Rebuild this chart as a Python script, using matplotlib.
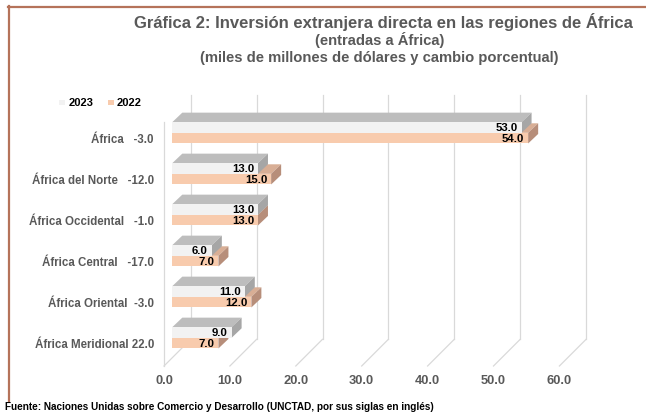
import matplotlib
matplotlib.use("Agg")
import matplotlib.pyplot as plt
from matplotlib.patches import Polygon

# ---------------------------------------------------------------
# data (miles de millones de dólares)
# ---------------------------------------------------------------
regions = ["África", "África del Norte", "África Occidental",
           "África Central", "África Oriental", "África Meridional"]
change_pct = [-3.0, -12.0, -1.0, -17.0, -3.0, 22.0]
fdi_2023 = [53.0, 13.0, 13.0, 6.0, 11.0, 9.0]
fdi_2022 = [54.0, 15.0, 13.0, 7.0, 12.0, 7.0]
x_ticks = [0, 10, 20, 30, 40, 50, 60]
label_gaps = [3, 3, 3, 3, 2, 1]   # spaces between name and % in the label

# ---------------------------------------------------------------
# look
# ---------------------------------------------------------------
W, H = 646, 415
GRAY_TXT = "#595959"
GRID = "#D9D9D9"
BORDER = "#B5735A"
C23 = {"front": "#F2F2F2", "top": "#BDBDBD", "side": "#A6A6A6"}
C22 = {"front": "#F8CBAD", "top": "#D8AE95", "side": "#B78E7A"}

plt.rcParams["font.family"] = ["Liberation Sans", "DejaVu Sans"]
plt.rcParams["font.weight"] = "bold"

# pixel geometry of the 3d box (value units / category units)
PX_X = 6.59      # pixels per value unit
PX_Y = 41.0      # pixels per category
X0 = 172.3       # pixel where value 0 of bar front sits
Y0 = 132.8       # pixel of first category (between the two bars)

BAR_H = 0.26
BAR_DX = 10 / PX_X
BAR_DY = 9.5 / PX_Y
WALL_DX = 26.7 / PX_X
WALL_DY = 26.7 / PX_Y
FRONT_SHIFT = 8.3 / PX_X


def vx(px):
    return (px - X0) / PX_X


def cy(py):
    return (py - Y0) / PX_Y


fig = plt.figure(figsize=(W / 100, H / 100), dpi=100)
ax = fig.add_axes([0, 0, 1, 1])
ax.set_xlim(vx(0), vx(W))
ax.set_ylim(cy(H), cy(0))
ax.axis("off")

# frame lines (top and left)
fig.add_artist(plt.Line2D([8.5 / W, 8.5 / W], [1 - 6 / H, 1 - 401 / H],
                          color=BORDER, lw=1.6))
fig.add_artist(plt.Line2D([8 / W, 1], [1 - 7 / H, 1 - 7 / H],
                          color=BORDER, lw=1.6))

# titles
fig.text(383 / W, 1 - 22 / H,
         "Gráfica 2: Inversión extranjera directa en las regiones de África",
         ha="center", va="center", fontsize=12, color=GRAY_TXT)
fig.text(380 / W, 1 - 40 / H, "(entradas a África)",
         ha="center", va="center", fontsize=10.6, color=GRAY_TXT)
fig.text(379 / W, 1 - 58 / H,
         "(miles de millones de dólares y cambio porcentual)",
         ha="center", va="center", fontsize=10.6, color=GRAY_TXT)

# walls / floor gridlines
floor_front = cy(366)
floor_back = floor_front - WALL_DY
wall_top = cy(95)
x_front0 = -FRONT_SHIFT
for t in x_ticks:
    xb = t + x_front0 + WALL_DX
    ax.plot([xb, xb], [floor_back, wall_top], color=GRID, lw=0.9, zorder=1)
    ax.plot([t + x_front0, xb], [floor_front, floor_back], color=GRID,
            lw=0.9, zorder=1)
    ax.text(t + x_front0, cy(381), f"{t:.1f}", ha="center", va="center",
            fontsize=9.3, color=GRAY_TXT)
ax.plot([x_front0, x_front0], [floor_front, wall_top + WALL_DY],
        color=GRID, lw=0.9, zorder=1)


def draw_bar(val, y_top, cols, z):
    y_bot = y_top + BAR_H
    front = [(0, y_top), (val, y_top), (val, y_bot), (0, y_bot)]
    top = [(0, y_top), (val, y_top), (val + BAR_DX, y_top - BAR_DY),
           (BAR_DX, y_top - BAR_DY)]
    side = [(val, y_top), (val, y_bot), (val + BAR_DX, y_bot - BAR_DY),
            (val + BAR_DX, y_top - BAR_DY)]
    ax.add_patch(Polygon(top, closed=True, fc=cols["top"], ec="none", zorder=z))
    ax.add_patch(Polygon(side, closed=True, fc=cols["side"], ec="none", zorder=z))
    ax.add_patch(Polygon(front, closed=True, fc=cols["front"], ec="none", zorder=z))


for i, (v23, v22) in enumerate(zip(fdi_2023, fdi_2022)):
    draw_bar(v22, i, C22, 3 + 2 * i)
    draw_bar(v23, i - BAR_H, C23, 4 + 2 * i)
    ax.text(v23 - 0.6, i - BAR_H / 2 + 0.01, f"{v23:.1f}", ha="right",
            va="center", fontsize=8.2, color="black", zorder=20)
    ax.text(v22 - 0.6, i + BAR_H / 2 + 0.02, f"{v22:.1f}", ha="right",
            va="center", fontsize=8.2, color="black", zorder=20)
    lab = regions[i] + " " * label_gaps[i] + f"{change_pct[i]:.1f}"
    ax.text(vx(154), i + 0.18, lab, ha="right", va="center",
            fontsize=8.3, color=GRAY_TXT)

# legend
for x_m, x_t, name, col in [(62, 69, "2023", C23["front"]),
                            (111, 117, "2022", C22["front"])]:
    ax.scatter([vx(x_m)], [cy(102.5)], marker="s", s=16, color=col,
               edgecolors="none")
    ax.text(vx(x_t), cy(102.5), name, ha="left", va="center",
            fontsize=8, color="black")

# source
fig.text(5 / W, 1 - 407 / H,
         "Fuente: Naciones Unidas sobre Comercio y Desarrollo "
         "(UNCTAD, por sus siglas en inglés)",
         ha="left", va="center", fontsize=7.2, color="black")

fig.savefig("out.png", dpi=100)
